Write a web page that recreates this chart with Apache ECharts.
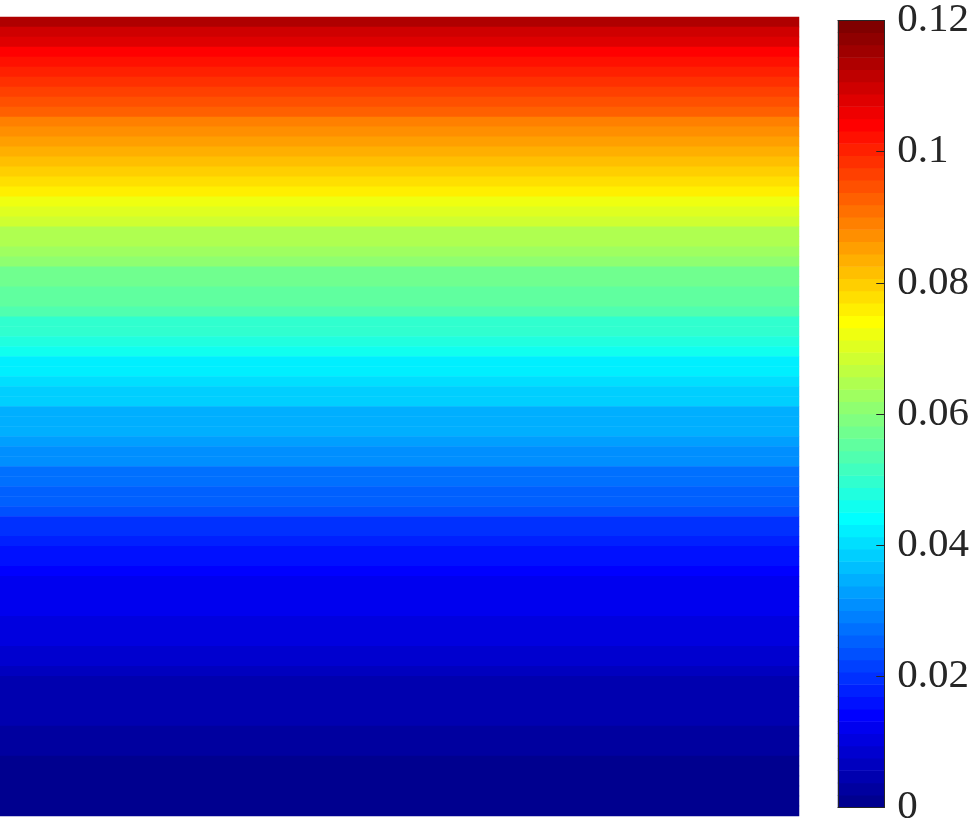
<!DOCTYPE html>
<html>
<head>
<meta charset="utf-8">
<script src="https://cdn.jsdelivr.net/npm/echarts@6/dist/echarts.min.js"></script>
<style>
html,body{margin:0;padding:0;background:#fff;}
#chart{width:972px;height:828px;}
</style>
</head>
<body>
<div id="chart"></div>
<script>
// Field values, one per horizontal row, top row first.
var fieldRows = [
  0.1125, 0.1097, 0.1069, 0.1041, 0.1022, 0.1003, 0.0984, 0.0966, 0.0938, 0.0919,
  0.0891, 0.0872, 0.0853, 0.0834, 0.0816, 0.0788, 0.0769, 0.0750, 0.0722, 0.0703,
  0.0675, 0.0656, 0.0638, 0.0619, 0.0600, 0.0581, 0.0572, 0.0553, 0.0544, 0.0525,
  0.0506, 0.0488, 0.0469, 0.0450, 0.0431, 0.0413, 0.0394, 0.0384, 0.0375, 0.0356,
  0.0347, 0.0338, 0.0328, 0.0309, 0.0300, 0.0281, 0.0272, 0.0253, 0.0244, 0.0225,
  0.0206, 0.0188, 0.0178, 0.0159, 0.0150, 0.0141, 0.0131, 0.0122, 0.0122, 0.0113,
  0.0103, 0.0094, 0.0094, 0.0084, 0.0075, 0.0066, 0.0056, 0.0056, 0.0047, 0.0038,
  0.0038, 0.0028, 0.0019, 0.0019, 0.0009, 0.0009, 0.0002, 0.0002, 0.0002, 0.0002
];
var fieldColumns = ['c1'];
var colorMin = 0;
var colorMax = 0.12;
var colorTickStep = 0.02;
var colorLevels = 64;

// MATLAB-style jet colormap (styling only)
function jet(m) {
  var n = Math.ceil(m / 4);
  var u = [];
  var i;
  for (i = 1; i <= n; i++) u.push(i / n);
  for (i = 1; i < n; i++) u.push(1);
  for (i = n; i >= 1; i--) u.push(i / n);
  var g0 = Math.ceil(n / 2) - (m % 4 === 1 ? 1 : 0);
  var cols = [];
  for (i = 0; i < m; i++) cols.push([0, 0, 0]);
  for (i = 0; i < u.length; i++) {
    var gi = g0 + i;        // 0-based index
    var ri = gi + n;
    var bi = gi - n;
    if (gi >= 0 && gi < m) cols[gi][1] = u[i];
    if (ri >= 0 && ri < m) cols[ri][0] = u[i];
    if (bi >= 0 && bi < m) cols[bi][2] = u[i];
  }
  return cols.map(function (c) {
    return 'rgb(' + Math.round(c[0] * 255) + ',' + Math.round(c[1] * 255) + ',' + Math.round(c[2] * 255) + ')';
  });
}
var jetColors = jet(colorLevels);
var step = (colorMax - colorMin) / colorLevels;
var pieces = [];
for (var k = 0; k < colorLevels; k++) {
  var p = { gte: colorMin + k * step, color: jetColors[k] };
  if (k < colorLevels - 1) p.lt = colorMin + (k + 1) * step; else p.lte = colorMax;
  pieces.push(p);
}

var fieldData = [];
fieldRows.forEach(function (v, r) {
  fieldColumns.forEach(function (c, ci) { fieldData.push([ci, r, v]); });
});
var rowCats = fieldRows.map(function (_, r) { return 'r' + r; });

var barCats = [];
var barData = [];
for (var j = 0; j < colorLevels; j++) {
  barCats.push('l' + j);
  barData.push([0, j, colorMin + (j + 0.5) * step]);
}

var lineColor = '#262626';
var chart = echarts.init(document.getElementById('chart'), null, { renderer: 'canvas' });
chart.setOption({
  animation: false,
  backgroundColor: '#ffffff',
  grid: [
    { left: 0, top: 17, width: 799, height: 799 },
    { left: 838, top: 17, width: 48, height: 799 }
  ],
  xAxis: [
    { type: 'category', gridIndex: 0, data: fieldColumns, show: false },
    { type: 'category', gridIndex: 1, data: [''], position: 'bottom', z: 10,
      axisLine: { show: true, lineStyle: { color: lineColor, width: 1 } },
      axisTick: { show: false }, axisLabel: { show: false }, splitLine: { show: false } },
    { type: 'category', gridIndex: 1, data: [''], position: 'top', z: 10,
      axisLine: { show: true, lineStyle: { color: lineColor, width: 1 } },
      axisTick: { show: false }, axisLabel: { show: false }, splitLine: { show: false } }
  ],
  yAxis: [
    { type: 'category', gridIndex: 0, data: rowCats, inverse: true, show: false },
    { type: 'category', gridIndex: 1, data: barCats, position: 'left', z: 10,
      axisLine: { show: true, onZero: false, lineStyle: { color: lineColor, width: 1 } },
      axisTick: { show: false }, axisLabel: { show: false }, splitLine: { show: false } },
    { type: 'value', gridIndex: 1, min: colorMin, max: colorMax, interval: colorTickStep,
      position: 'right', z: 10,
      axisLine: { show: true, onZero: false, lineStyle: { color: lineColor, width: 1 } },
      axisTick: { show: true, inside: true, length: 8, lineStyle: { color: lineColor, width: 1 } },
      axisLabel: { show: true, margin: 13, color: lineColor, fontSize: 41,
        fontFamily: 'Liberation Serif, DejaVu Serif, serif' },
      splitLine: { show: false } }
  ],
  visualMap: {
    type: 'piecewise',
    show: false,
    seriesIndex: [0, 1],
    dimension: 2,
    pieces: pieces
  },
  series: [
    { type: 'heatmap', xAxisIndex: 0, yAxisIndex: 0, data: fieldData,
      itemStyle: { borderWidth: 0 }, emphasis: { disabled: true } },
    { type: 'heatmap', xAxisIndex: 1, yAxisIndex: 1, data: barData,
      itemStyle: { borderWidth: 0 }, emphasis: { disabled: true } }
  ]
});
</script>
</body>
</html>
